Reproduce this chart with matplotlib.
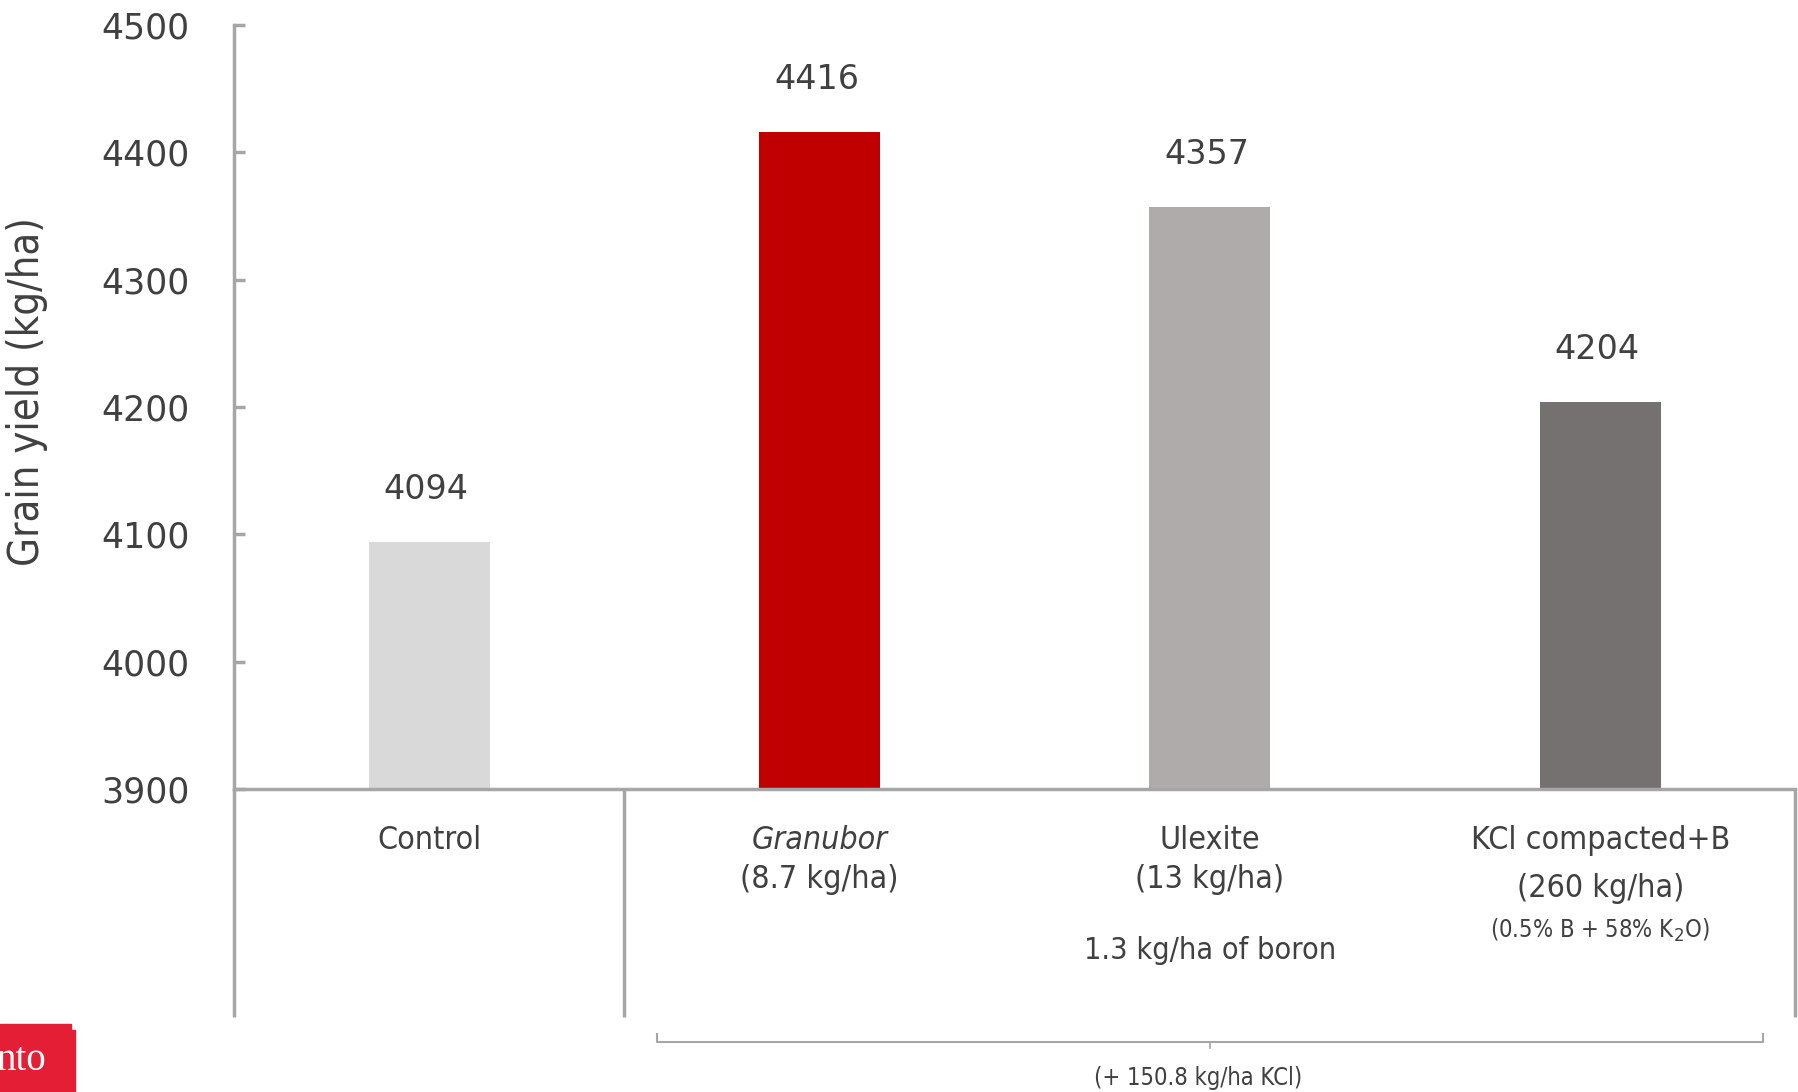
import matplotlib.pyplot as plt
import matplotlib.transforms as mtransforms
from matplotlib.patches import Rectangle

# Grain yield by boron source
categories = ['Control', 'Granubor', 'Ulexite', 'KCl compacted+B']
yields = [4094, 4416, 4357, 4204]
rates = ['', '(8.7 kg/ha)', '(13 kg/ha)', '(260 kg/ha)']
barColors = ['#d9d9d9', '#c00000', '#afabab', '#767171']
yTicks = [3900, 4000, 4100, 4200, 4300, 4400, 4500]

textColor = '#404040'
lineColor = '#a6a6a6'
narrow = dict(family='DejaVu Sans', stretch='condensed')

fig = plt.figure(figsize=(17.99, 10.92), dpi=100)
ax = fig.add_axes([0.130, 0.2775, 0.868, 0.6995])

x = list(range(len(categories)))
ax.bar(x, yields, width=0.31, color=barColors, zorder=2)
ax.set_xlim(-0.5, 3.5)
ax.set_ylim(3900, 4500)

for xi, v in zip(x, yields):
    ax.annotate(str(v), (xi, v), xytext=(-2, 38), textcoords='offset points',
                ha='center', va='center', fontsize=24, color=textColor)

ax.set_yticks(yTicks)
ax.set_yticklabels([str(t) for t in yTicks], fontsize=25, color=textColor)
ax.tick_params(axis='y', direction='in', length=8, width=2.5, color=lineColor, pad=32)
ax.tick_params(axis='x', length=0, labelbottom=False)
ax.set_ylabel('Grain yield (kg/ha)', fontsize=30, color=textColor, **narrow)
ax.yaxis.set_label_coords(-0.119, 0.52)

for side in ['top', 'right']:
    ax.spines[side].set_visible(False)
for side in ['left', 'bottom']:
    ax.spines[side].set_color(lineColor)
    ax.spines[side].set_linewidth(2.5)

trans = mtransforms.blended_transform_factory(ax.transData, ax.transAxes)

# table-like separators under the axis
for xs in [-0.5, 0.5, 3.5]:
    ax.plot([xs, xs], [0, -0.298], transform=trans, color=lineColor, lw=2.5,
            clip_on=False, solid_capstyle='butt')

# category labels
ax.text(0, -0.067, 'Control', transform=trans, ha='center', va='center',
        fontsize=23, color=textColor, **narrow)
ax.text(1, -0.067, 'Granubor', transform=trans, ha='center', va='center',
        fontsize=23, color=textColor, style='italic', **narrow)
ax.text(2, -0.067, 'Ulexite', transform=trans, ha='center', va='center',
        fontsize=23, color=textColor, **narrow)
ax.text(3, -0.067, 'KCl compacted+B', transform=trans, ha='center', va='center',
        fontsize=23, color=textColor, **narrow)
ax.text(1, -0.118, rates[1], transform=trans, ha='center', va='center',
        fontsize=23, color=textColor, **narrow)
ax.text(2, -0.118, rates[2], transform=trans, ha='center', va='center',
        fontsize=23, color=textColor, **narrow)
ax.text(3, -0.130, rates[3], transform=trans, ha='center', va='center',
        fontsize=23, color=textColor, **narrow)
ax.text(3, -0.185, '(0.5% B + 58% K$_2$O)', transform=trans, ha='center', va='center',
        fontsize=17, color=textColor, **narrow)
ax.text(2, -0.211, '1.3 kg/ha of boron', transform=trans, ha='center', va='center',
        fontsize=22, color=textColor, **narrow)

# bracket for the KCl treatments
ax.plot([0.583, 0.583, 3.417, 3.417], [-0.321, -0.331, -0.331, -0.321],
        transform=trans, color=lineColor, lw=1.5, clip_on=False)
ax.plot([2, 2], [-0.331, -0.339], transform=trans, color=lineColor, lw=1.2, clip_on=False)
ax.text(1.97, -0.378, '(+ 150.8 kg/ha KCl)', transform=trans, ha='center', va='center',
        fontsize=17, color=textColor, **narrow)

# cropped logo in the corner
fig.patches.append(Rectangle((0, 0), 75 / 1799, 62 / 1092, transform=fig.transFigure,
                             color='#e31e35', zorder=0))
fig.patches.append(Rectangle((0, 0), 71 / 1799, 68 / 1092, transform=fig.transFigure,
                             color='#e31e35', zorder=0))
fig.text(46 / 1799, 0.029, 'nto', ha='right', va='center', fontsize=28,
         color='white', family='Liberation Serif')

plt.savefig('out.png', dpi=100)
